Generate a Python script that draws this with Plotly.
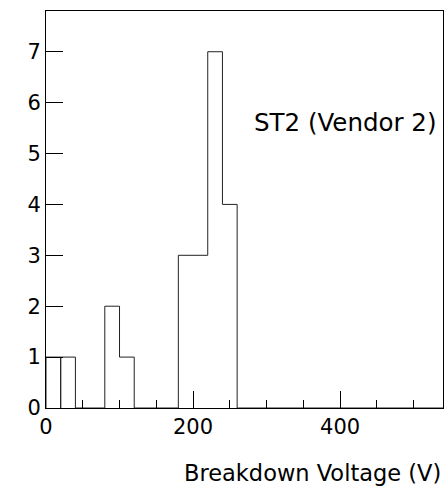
import plotly.graph_objects as go

# Histogram of breakdown voltages (bin width 20 V)
bin_edges = list(range(0, 560, 20))          # 0 .. 540
counts = [1, 1, 0, 0, 2, 1, 0, 0, 0, 3, 3, 7, 4,
          0, 0, 0, 0, 0, 0, 0, 0, 0, 0, 0, 0, 0, 0]
x_tick_vals = [0, 200, 400]
y_tick_vals = [0, 1, 2, 3, 4, 5, 6, 7]
x_title = "Breakdown Voltage (V)"
label = "ST2 (Vendor 2)"


def step_path(edges, vals):
    xs, ys = [edges[0]], [0]
    for i, v in enumerate(vals):
        xs += [edges[i], edges[i + 1]]
        ys += [v, v]
    xs.append(edges[len(vals)])
    ys.append(0)
    return xs, ys


fig = go.Figure()
# first bin drawn separately (shows the separator line at 20 V as in the original)
x1, y1 = step_path(bin_edges[:2], counts[:1])
x2, y2 = step_path(bin_edges[1:], counts[1:])
for xs, ys in ((x1, y1), (x2, y2)):
    fig.add_trace(go.Scatter(x=xs, y=ys, mode="lines",
                             line=dict(color="#222222", width=1),
                             showlegend=False, hoverinfo="skip"))

font_family = "DejaVu Sans"
fig.update_layout(
    width=446, height=492,
    margin=dict(l=46, r=3, t=11, b=84),
    paper_bgcolor="white", plot_bgcolor="white",
    font=dict(family=font_family, size=21, color="black"),
    showlegend=False,
)
fig.update_xaxes(
    range=[0, 540], showgrid=False, zeroline=False,
    showline=True, mirror=True, linecolor="black", linewidth=1,
    tickmode="array", tickvals=x_tick_vals, ticks="inside", ticklen=17,
    tickcolor="black", tickwidth=1,
    minor=dict(dtick=50, tick0=0, ticks="inside", ticklen=8, tickcolor="black", tickwidth=1),
    tickfont=dict(size=21),
)
fig.update_yaxes(
    range=[0, 7.8], showgrid=False, zeroline=False,
    showline=True, mirror=True, linecolor="black", linewidth=1,
    tickmode="array", tickvals=y_tick_vals, ticks="inside", ticklen=17,
    tickcolor="black", tickwidth=1,
    tickfont=dict(size=21),
)
fig.add_annotation(text=x_title, xref="paper", yref="paper",
                   x=1.0, y=-0.164, xanchor="right", yanchor="middle",
                   showarrow=False, font=dict(size=22.5))
fig.add_annotation(text=label, xref="paper", yref="paper",
                   x=0.987, y=0.72, xanchor="right", yanchor="middle",
                   showarrow=False, font=dict(size=24.5))

fig.write_html("out.html", config={"displayModeBar": False},
               post_script="document.body.style.margin='0';document.body.style.padding='0';")
